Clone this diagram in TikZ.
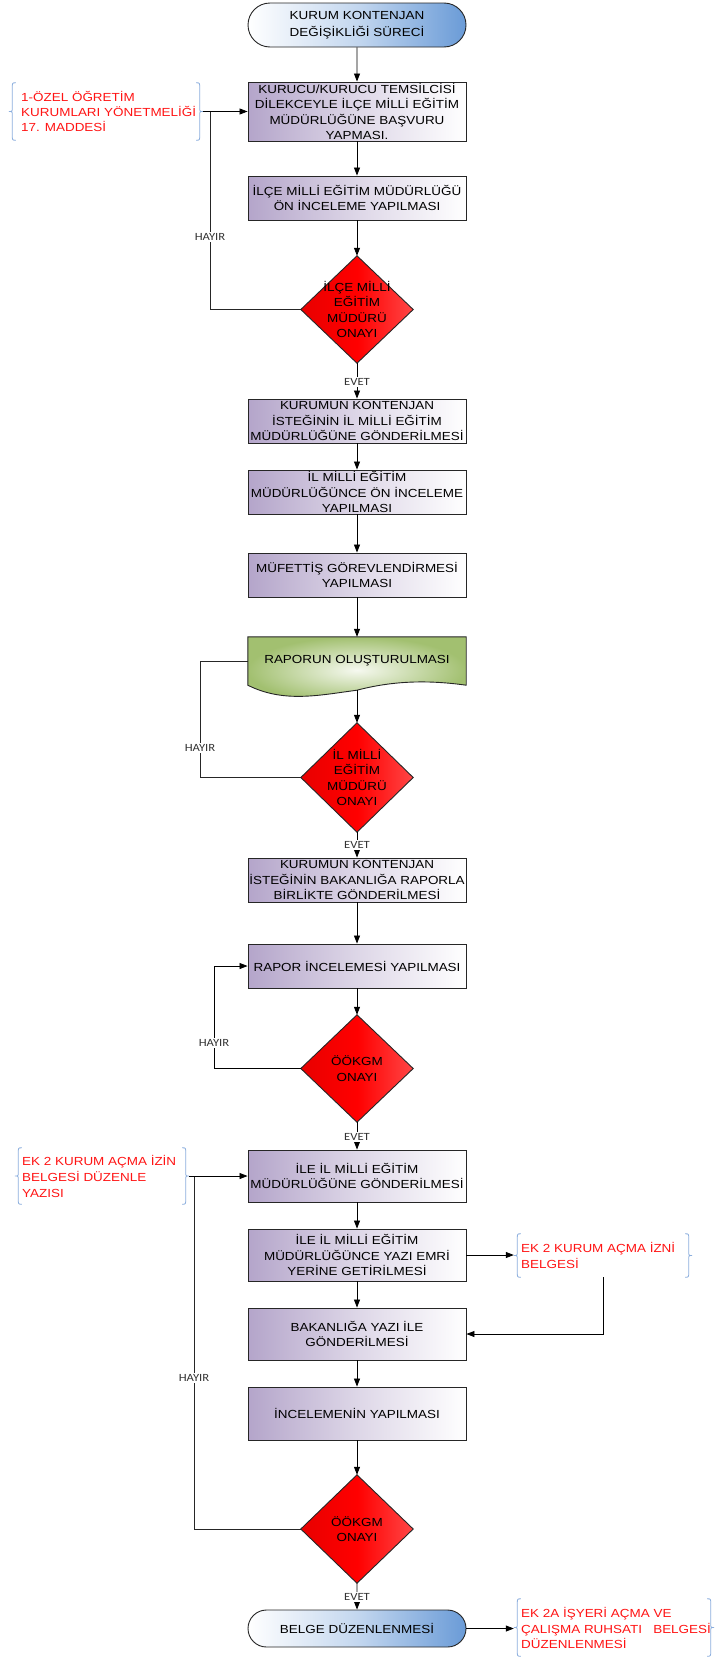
\documentclass[tikz,border=0pt]{standalone}
\usepackage{fontspec}
\setmainfont{Liberation Sans}[FakeStretch=1.15]
\newfontfamily\lblfont{Carlito}[FakeStretch=1.15]
\usetikzlibrary{arrows.meta,shapes.misc,calc,backgrounds}
\definecolor{lav}{RGB}{180,165,202}
\definecolor{termblue}{RGB}{106,155,215}
\definecolor{docgreen}{RGB}{162,192,112}
\definecolor{docin}{RGB}{246,249,240}
\definecolor{dred}{RGB}{232,0,0}
\definecolor{lred}{RGB}{255,70,70}
\definecolor{brkblue}{RGB}{140,175,222}
\definecolor{annred}{RGB}{255,20,20}
\newcommand\annbrL[1]{%
 \draw[brk] ($(#1.north west)+(7,0)$) .. controls ($(#1.north west)+(3.5,0)$) .. ($(#1.north west)+(3.5,5)$) -- ($(#1.west)+(3.5,-4)$) .. controls ($(#1.west)+(3.5,0)$) .. (#1.west) .. controls ($(#1.west)+(3.5,0)$) .. ($(#1.west)+(3.5,4)$) -- ($(#1.south west)+(3.5,-5)$) .. controls ($(#1.south west)+(3.5,0)$) .. ($(#1.south west)+(7,0)$);}
\newcommand\annbrR[1]{%
 \draw[brk] ($(#1.north east)+(-7,0)$) .. controls ($(#1.north east)+(-3.5,0)$) .. ($(#1.north east)+(-3.5,5)$) -- ($(#1.east)+(-3.5,-4)$) .. controls ($(#1.east)+(-3.5,0)$) .. (#1.east) .. controls ($(#1.east)+(-3.5,0)$) .. ($(#1.east)+(-3.5,4)$) -- ($(#1.south east)+(-3.5,-5)$) .. controls ($(#1.south east)+(-3.5,0)$) .. ($(#1.south east)+(-7,0)$);}
\tikzset{
 every node/.style={font=\fontsize{11.7}{15.5}\selectfont},
 procbox/.style={draw=black!85, line width=0.9pt, minimum width=218pt, inner sep=0pt, align=center,
   left color=lav, right color=white, middle color=lav!45!white},
 term/.style={rounded rectangle, draw=black!85, line width=0.9pt, minimum width=218pt, inner sep=0pt, align=center,
   left color=white, right color=termblue, middle color=termblue!40!white},
 decspot/.style={minimum width=112pt, inner sep=0pt, align=center},
 flow/.style={-{Triangle[length=8pt,width=6pt]}, line width=0.8pt, draw=black},
 loopline/.style={line width=0.8pt, draw=black!85},
 yesno/.style={font=\lblfont\fontsize{11}{13}\selectfont, text=black!80, fill=white, inner sep=1.5pt},
 annframe/.style={inner sep=0pt},
 anntext/.style={anchor=west, align=left, text=annred, inner sep=0pt},
 brk/.style={draw=brkblue, line width=0.8pt},
 shapeline/.style={draw=black!85, line width=0.9pt}
}
\begin{document}
\begin{tikzpicture}[x=1pt,y=-1pt]
\useasboundingbox (0,0) rectangle (717,1657);
% main column
\node[term, minimum height=44pt, font=\fontsize{11.7}{16.5}\selectfont] (start) at (357,25) {KURUM KONTENJAN\\DEĞİŞİKLİĞİ SÜRECİ};
\node[procbox, minimum height=59pt] (b1) at (357,111.5) {KURUCU/KURUCU TEMSİLCİSİ\\DİLEKCEYLE İLÇE MİLLİ EĞİTİM\\MÜDÜRLÜĞÜNE BAŞVURU\\YAPMASI.};
\node[procbox, minimum height=44pt] (b2) at (357,198) {İLÇE MİLLİ EĞİTİM MÜDÜRLÜĞÜ\\ÖN İNCELEME YAPILMASI};
\node[decspot, minimum height=107pt] (d1) at (357,309.5) {İLÇE MİLLİ\\EĞİTİM\\MÜDÜRÜ\\ONAYI};
\node[procbox, minimum height=44pt] (b3) at (357,421) {KURUMUN KONTENJAN\\İSTEĞİNİN İL MİLLİ EĞİTİM\\MÜDÜRLÜĞÜNE GÖNDERİLMESİ};
\node[procbox, minimum height=44pt] (b4) at (357,492) {İL MİLLİ EĞİTİM\\MÜDÜRLÜĞÜNCE ÖN İNCELEME\\YAPILMASI};
\node[procbox, minimum height=44pt] (b5) at (357,575) {MÜFETTİŞ GÖREVLENDİRMESİ\\YAPILMASI};
\node[minimum width=218pt, minimum height=48pt, inner sep=0pt] (doc) at (357,661) {RAPORUN OLUŞTURULMASI};
\node[decspot, minimum height=109pt] (d2) at (357,777.5) {İL MİLLİ\\EĞİTİM\\MÜDÜRÜ\\ONAYI};
\node[procbox, minimum height=44pt] (b6) at (357,880) {KURUMUN KONTENJAN\\İSTEĞİNİN BAKANLIĞA RAPORLA\\BİRLİKTE GÖNDERİLMESİ};
\node[procbox, minimum height=44pt] (b7) at (357,966) {RAPOR İNCELEMESİ YAPILMASI};
\node[decspot, minimum height=107pt] (d3) at (357,1068.5) {ÖÖKGM\\ONAYI};
\node[procbox, minimum height=52pt] (b8) at (357,1176) {İLE İL MİLLİ EĞİTİM\\MÜDÜRLÜĞÜNE GÖNDERİLMESİ};
\node[procbox, minimum height=52pt] (b9) at (357,1255) {İLE İL MİLLİ EĞİTİM\\MÜDÜRLÜĞÜNCE YAZI EMRİ\\YERİNE GETİRİLMESİ};
\node[procbox, minimum height=52pt] (b10) at (357,1334) {BAKANLIĞA YAZI İLE\\GÖNDERİLMESİ};
\node[procbox, minimum height=53pt] (b11) at (357,1413.5) {İNCELEMENİN YAPILMASI};
\node[decspot, minimum height=108pt] (d4) at (357,1529) {ÖÖKGM\\ONAYI};
\node[term, minimum height=37pt] (end) at (357,1628.5) {BELGE DÜZENLENMESİ};
% annotations
\node[annframe, minimum width=194pt, minimum height=57pt] (a1) at (106,111.5) {};
\node[anntext, font=\fontsize{11.7}{15}\selectfont] (a1t) at (21,111.5) {1-ÖZEL ÖĞRETİM\\KURUMLARI YÖNETMELİĞİ\\17. MADDESİ};
\node[annframe, minimum width=174pt, minimum height=56pt] (a2) at (102,1176) {};
\node[anntext, font=\fontsize{11.7}{16}\selectfont] (a2t) at (22,1176) {EK 2 KURUM AÇMA İZİN\\BELGESİ DÜZENLE\\YAZISI};
\node[annframe, minimum width=178pt, minimum height=43pt] (a3) at (603,1255.5) {};
\node[anntext, font=\fontsize{11.7}{16}\selectfont] (a3t) at (521,1255) {EK 2 KURUM AÇMA İZNİ\\BELGESİ};
\node[annframe, minimum width=200pt, minimum height=57pt] (a4) at (614,1627.5) {};
\node[anntext, font=\fontsize{11.7}{15.5}\selectfont] (a4t) at (521,1628) {EK 2A İŞYERİ AÇMA VE\\ÇALIŞMA RUHSATI\ \ \ BELGESİ\\DÜZENLENMESİ};
\annbrL{a1}\annbrR{a1}
\annbrL{a2}\annbrR{a2}
\annbrL{a3}\annbrR{a3}
\annbrL{a4}\annbrR{a4}
% background shapes
\begin{scope}[on background layer]
\fill[white] (0,0) rectangle (717,1657);
\foreach \d in {d1,d2,d3,d4}{
  \shade[shapeline, left color=dred, right color=lred, middle color=red] (\d.north) -- (\d.east) -- (\d.south) -- (\d.west) -- cycle;
}
\shade[shapeline, inner color=docin, outer color=docgreen]
  (doc.north west) -- (doc.north east) -- ($(doc.south east)+(0,0)$)
  .. controls ($(doc.south east)+(-36,-5)$) and ($(doc.south)+(38,-5)$) .. ($(doc.south)+(0,5)$)
  .. controls ($(doc.south)+(-38,10)$) and ($(doc.south west)+(36,18)$) .. (doc.south west) -- cycle;
\end{scope}
% main flow
\draw[flow] (start) -- (b1);
\draw[flow] (b1) -- (b2);
\draw[flow] (b2) -- (d1);
\draw[flow] (d1) -- (b3);
\draw[flow] (b3) -- (b4);
\draw[flow] (b4) -- (b5);
\draw[flow] (b5) -- (doc);
\draw[flow] ($(doc.south)+(0,5)$) -- (d2.north);
\draw[flow] (d2) -- (b6);
\draw[flow] (b6) -- (b7);
\draw[flow] (b7) -- (d3);
\draw[flow] (d3) -- (b8);
\draw[flow] (b8) -- (b9);
\draw[flow] (b9) -- (b10);
\draw[flow] (b10) -- (b11);
\draw[flow] (b11) -- (d4);
\draw[flow] (d4) -- (end);
% loops
\coordinate (j1) at (210,111.5);
\draw[loopline] (d1.west) -| (j1);
\draw[flow] (a1.east) -- (b1.west);
\coordinate (j2) at (200,661);
\draw[loopline] (d2.west) -| (j2) -- (doc.west);
\coordinate (j3) at (214,966);
\draw[loopline, flow] (d3.west) -| (j3) -- (b7.west);
\coordinate (j4) at (194,1176);
\draw[loopline] (d4.west) -| (j4);
\draw[flow] (a2.east) -- (b8.west);
% side annotations
\draw[flow] (b9.east) -- (b9.east -| a3.west);
\draw[flow] (a3.south) |- (b10.east);
\draw[flow] (end.east) -- (end.east -| a4.west);
% labels
\node[yesno] (h1) at (210,237) {HAYIR};
\node[yesno] (h2) at (200,748) {HAYIR};
\node[yesno] (h3) at (214,1043) {HAYIR};
\node[yesno] (h4) at (194,1378) {HAYIR};
\node[yesno] (e1) at (357,382) {EVET};
\node[yesno] (e2) at (357,845) {EVET};
\node[yesno] (e3) at (357,1137) {EVET};
\node[yesno] (e4) at (357,1597) {EVET};
\end{tikzpicture}
\end{document}
